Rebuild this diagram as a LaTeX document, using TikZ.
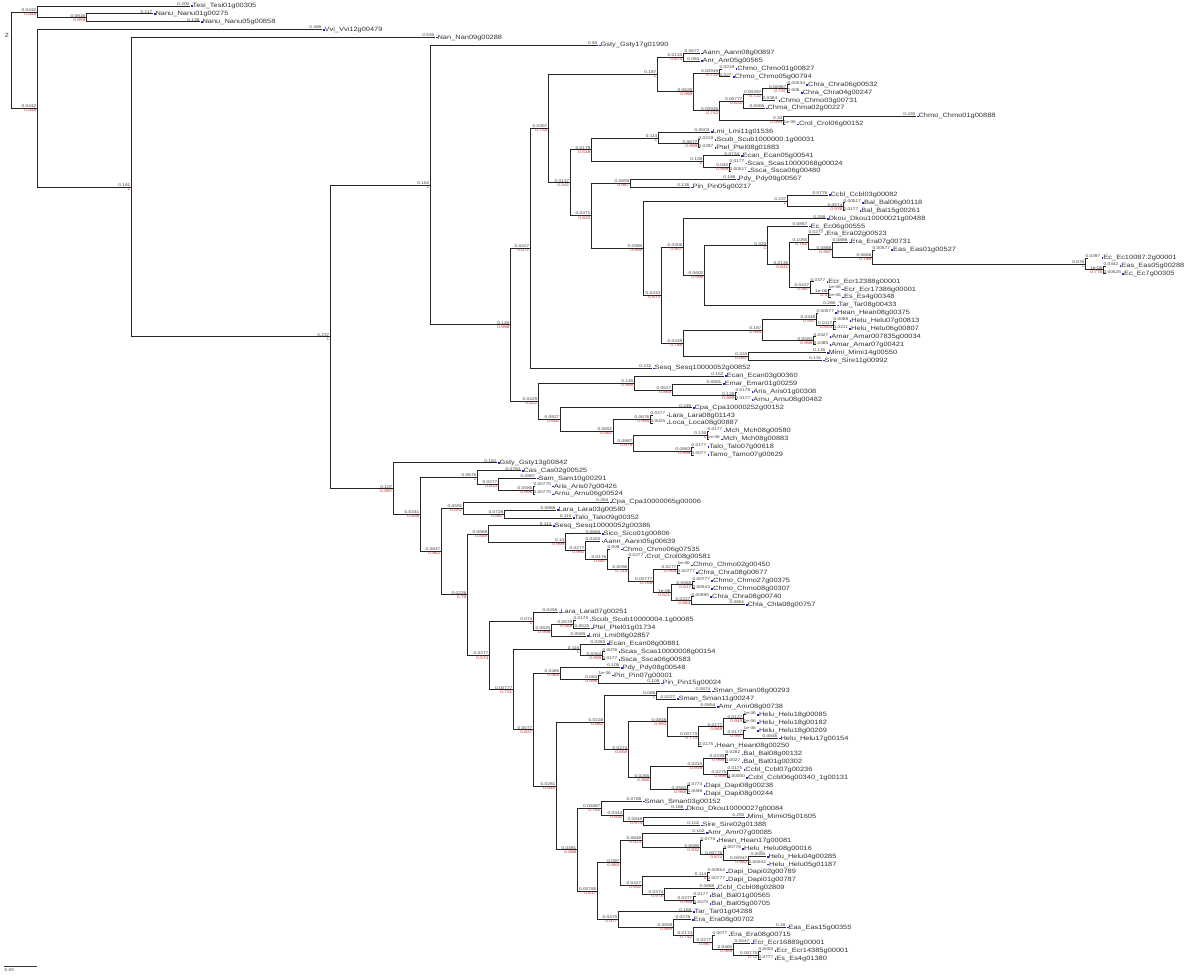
\documentclass[tikz,border=0pt]{standalone}
\usepackage{fontspec}
\usepackage{xcolor}
\usetikzlibrary{calc}
\newfontfamily\treefont[FakeStretch=1.2]{Liberation Sans}
\definecolor{suppred}{RGB}{200,45,45}
\definecolor{tipblue}{RGB}{35,35,215}

% internal node: name, x, row, branch length, support
\newcommand\nd[5]{%
  \coordinate (#1) at (#2,#3);
  \node[blen,anchor=south east] at (#1) {#4};
  \node[supp,anchor=north east] at (#1) {#5};
  \fill[suppred] (#1) circle (0.6pt);
}
% leaf: name, parent, tip x, row, branch length, label
\newcommand\lf[6]{%
  \coordinate (#1) at (#3,#4);
  \draw[branch] (#2) |- (#1);
  \path let \p1=(#2), \p2=(#1) in node[blen,anchor=south west,text opacity=0] (#1w) at (\x1,\y2) {#5};
  \path let \p2=(#1), \p3=(#1w.south east) in coordinate (#1e) at ({max(\x2,\x3)*1pt},\y2);
  \node[blen,anchor=south east] at (#1e) {#5};
  \node[leafname] (#1n) at (#1e) {\textcolor{tipblue}{\rule[0.6pt]{1.8pt}{1.6pt}}#6};
}

\begin{document}
\begin{tikzpicture}[x=1pt,y=-7.876pt]
\tikzset{branch/.style={draw=black!85,line width=0.8pt}}
\tikzset{blen/.style={font=\treefont\fontsize{4}{4}\selectfont,text=black!75,inner sep=0.4pt}}
\tikzset{supp/.style={font=\treefont\fontsize{4}{4}\selectfont,text=suppred,inner sep=0.4pt}}
\tikzset{leafname/.style={anchor=west,font=\treefont\fontsize{6.2}{6.2}\selectfont,text=black!80,inner sep=0.6pt}}

\useasboundingbox (0,-0.762) rectangle (1200,123.16);

% root and first splits
\coordinate (R) at (11,6.875);
\node[blen,font=\treefont\fontsize{6}{6}\selectfont] (rootmark) at (7,3.7) {2};
\nd{A}{37}{0.75}{0.0432}{0.848}
\nd{B}{86}{1.5}{0.0816}{0.959}
\nd{C}{37}{13}{0.0432}{0.848}
\nd{D}{131}{23}{0.181}{1}
\nd{E}{330}{42.01}{0.237}{1}

% upper clade
\nd{F}{430}{22.74}{0.162}{1}
\nd{L}{510}{40.485}{0.148}{0.998}
\nd{M}{530}{30.78}{0.0427}{0.871}
\nd{X}{548}{15.567}{0.0357}{0.754}
\nd{Y}{657}{8.703}{0.187}{1}
\nd{Y1}{683}{6.5}{0.0133}{0.874}
\nd{Y2}{693}{10.906}{0.0628}{0.999}
\nd{Y3}{719}{8.5}{0.00949}{0.722}
\nd{Y4}{719}{13.3125}{0.00945}{0.742}
\nd{Y5}{743}{12.125}{0.00777}{0.831}
\nd{Y6}{783}{14.5}{0.33}{0.999}
\nd{Y7}{762}{11.25}{0.00397}{0.722}
\nd{Y8}{787}{10.5}{0.00967}{0.737}
\nd{Z}{570}{22.43}{0.0137}{0.541}
\nd{Z1}{591}{18.25}{0.0179}{0.518}
\nd{AA}{658}{16.75}{0.113}{1}
\nd{AA2}{698}{17.5}{0.0677}{0.999}
\nd{AB}{703}{19.75}{0.138}{1}
\nd{AB2}{729}{20.5}{0.042}{0.999}
\nd{Z2}{591}{26.615}{0.0471}{0.833}
\nd{Z3}{630}{22.5}{0.0859}{0.987}
\nd{Z4}{643}{30.73}{0.0985}{0.999}
\nd{Z5}{787}{24.75}{0.237}{1}
\nd{Z6}{843}{25.5}{0.0574}{0.976}
\nd{Z7}{661}{36.71}{0.0433}{0.873}
\nd{Z8}{683}{30.607}{0.0306}{0.957}
\nd{Z9}{683}{42.8125}{0.0449}{0.788}
\nd{Z10}{704}{34.215}{0.0602}{0.999}
\nd{Z11}{767}{30.43}{0.333}{1}
\nd{Z11a}{808}{29.969}{0.1055}{0.762}
\nd{Z11b}{832}{30.9375}{0.0888}{0.997}
\nd{Z12}{872}{31.875}{0.0666}{0.788}
\nd{Z13}{1085}{32.75}{0.876}{1}
\nd{Z14}{1103}{33.5}{1e-06}{0.775}
\nd{P1}{789}{32.859}{0.0135}{0.641}
\nd{P2}{810}{35.75}{0.0427}{0.987}
\nd{P3}{828}{36.5}{1e-06}{0.3}
\nd{Q4}{762}{41.125}{0.187}{0.999}
\nd{Q5}{748}{44.5}{0.333}{0.997}
\nd{Q6}{816}{39.75}{0.0348}{0.597}
\nd{Q7}{813}{42.5}{0.0584}{0.998}
\nd{Q8}{833}{40.5}{0.0117}{0.853}
\nd{N}{538}{50.19}{0.0429}{0.522}
\nd{O}{634}{47.875}{0.145}{0.999}
\nd{P}{560}{52.5}{0.0927}{0.682}
\nd{Q}{672}{48.75}{0.0527}{0.868}
\nd{Q2}{735}{49.5}{0.128}{0.999}
\nd{S}{613}{54}{0.0651}{0.881}
\nd{T}{650}{52.5}{0.0676}{0.995}
\nd{U}{633}{55.5}{0.0887}{0.979}
\nd{V}{707}{54.5}{0.135}{1}
\nd{W}{691}{56.5}{0.0883}{0.998}

% lower clade
\nd{G}{393}{61.28}{0.107}{0.997}
\nd{H}{420}{64.56}{0.0341}{0.656}
\nd{I}{477}{59.875}{0.0676}{1}
\nd{I2}{498}{60.75}{0.0277}{0.833}
\nd{I3}{533}{61.5}{0.0586}{0.996}
\nd{J}{441}{69.25}{0.0847}{0.862}
\nd{J1}{463}{63.75}{0.0591}{0.552}
\nd{J2}{504}{64.5}{0.0728}{0.887}
\nd{K}{467}{74.755}{0.0226}{0.79}
\nd{K1}{488}{67.03}{0.0889}{0.849}
\nd{K1a}{565}{68.06}{0.14}{0.999}
\nd{K1b}{585}{69.125}{0.0277}{0.992}
\nd{K1c}{607}{70.25}{0.0176}{0.887}
\nd{K1e}{628}{71.5}{0.0096}{0.744}
\nd{K1f}{653}{73}{0.00777}{0.768}
\nd{K1g}{677}{71.5}{0.0277}{0.958}
\nd{K1h}{671}{74.5}{1e-06}{0.521}
\nd{K1i}{692}{73.5}{0.0065}{0.617}
\nd{K1j}{691}{75.5}{0.0227}{0.884}
\nd{K2}{489}{82.48}{0.0277}{0.574}
\nd{K3}{533}{78.125}{0.074}{1}
\nd{K4}{551}{79.25}{0.0825}{0.998}
\nd{K4a}{573}{78.5}{0.0579}{0.988}
\nd{K5}{513}{86.83}{0.00777}{0.721}
\nd{K6}{580}{81.75}{0.115}{1}
\nd{K6b}{602}{82.5}{0.0354}{0.999}
\nd{K7}{533}{91.9}{0.0077}{0.827}
\nd{K8}{560}{84.75}{0.0485}{0.983}
\nd{K8a}{598}{85.5}{0.084}{0.996}
\nd{K9}{556}{99.05}{0.0281}{0.845}
\nd{K10}{604}{90.97}{0.0228}{0.882}
\nd{K12}{656}{87.5}{0.088}{1}
\nd{K13}{628}{94.44}{0.0274}{0.658}
\nd{K14}{667}{90.875}{0.0848}{0.993}
\nd{K15}{650}{98}{0.0265}{0.988}
\nd{K16}{698}{92.75}{0.00773}{0.774}
\nd{K17}{723}{91.5}{0.0177}{0.948}
\nd{K18}{743}{90.5}{0.0127}{0.943}
\nd{K19}{743}{92.5}{0.0177}{0.997}
\nd{K20}{703}{96.5}{0.0215}{0.919}
\nd{K21}{687}{99.5}{0.0583}{0.968}
\nd{K22}{725}{95.5}{0.0339}{0.999}
\nd{K23}{727}{97.5}{0.0275}{0.999}
\nd{K11}{577}{107.13}{0.0481}{0.888}
\nd{K24}{601}{101.875}{0.00887}{0.762}
\nd{K25}{597}{112.38}{0.00785}{0.617}
\nd{K26}{623}{102.75}{0.0343}{0.934}
\nd{K27}{643}{103.5}{0.0848}{0.974}
\nd{K28}{620}{108.78}{0.097}{0.983}
\nd{K29}{642}{105.94}{0.0848}{0.913}
\nd{K30}{700}{106.875}{0.0595}{0.932}
\nd{K31}{723}{107.75}{0.00776}{0.874}
\nd{K32}{748}{108.5}{0.00947}{0.982}
\nd{K33}{642}{111.625}{0.0427}{0.692}
\nd{K34}{707}{110.5}{0.114}{1}
\nd{K35}{664}{112.75}{0.0374}{0.978}
\nd{K36}{693}{113.5}{0.0377}{0.998}
\nd{K37}{618}{115.98}{0.0475}{0.977}
\nd{K38}{673}{116.97}{0.0558}{0.994}
\nd{K39}{693}{117.94}{0.0174}{0.742}
\nd{K40}{712}{118.875}{0.0277}{0.867}
\nd{K41}{733}{119.75}{0.0465}{0.989}
\nd{K42}{758}{120.5}{0.00775}{0.72}

% internal branches
\draw[branch] (R) |- (A) (R) |- (C) (A) |- (B) (C) |- (D) (D) |- (E) (E) |- (F) (E) |- (G);
\draw[branch] (F) |- (L) (L) |- (M) (L) |- (N) (M) |- (X) (X) |- (Y) (X) |- (Z);
\draw[branch] (Y) |- (Y1) (Y) |- (Y2) (Y2) |- (Y3) (Y2) |- (Y4) (Y4) |- (Y5) (Y4) |- (Y6) (Y5) |- (Y7) (Y7) |- (Y8);
\draw[branch] (Z) |- (Z1) (Z) |- (Z2) (Z1) |- (AA) (Z1) |- (AB) (AA) |- (AA2) (AB) |- (AB2);
\draw[branch] (Z2) |- (Z3) (Z2) |- (Z4) (Z4) |- (Z5) (Z4) |- (Z7) (Z5) |- (Z6) (Z7) |- (Z8) (Z7) |- (Z9);
\draw[branch] (Z8) |- (Z10) (Z10) |- (Z11) (Z11) |- (P1) (P1) |- (Z11a) (P1) |- (P2) (Z11a) |- (Z11b) (Z11b) |- (Z12) (Z12) |- (Z13) (Z13) |- (Z14) (P2) |- (P3);
\draw[branch] (Z9) |- (Q4) (Z9) |- (Q5) (Q4) |- (Q6) (Q4) |- (Q7) (Q6) |- (Q8);
\draw[branch] (N) |- (O) (N) |- (P) (O) |- (Q) (Q) |- (Q2) (P) |- (S) (S) |- (T) (S) |- (U) (U) |- (V) (U) |- (W);
\draw[branch] (G) |- (H) (H) |- (I) (H) |- (J) (I) |- (I2) (I2) |- (I3) (J) |- (J1) (J) |- (K) (J1) |- (J2);
\draw[branch] (K) |- (K1) (K) |- (K2) (K1) |- (K1a) (K1a) |- (K1b) (K1b) |- (K1c) (K1c) |- (K1e) (K1e) |- (K1f) (K1f) |- (K1g) (K1f) |- (K1h) (K1h) |- (K1i) (K1h) |- (K1j);
\draw[branch] (K2) |- (K3) (K2) |- (K5) (K3) |- (K4) (K4) |- (K4a) (K5) |- (K6) (K5) |- (K7) (K6) |- (K6b) (K7) |- (K8) (K7) |- (K9) (K8) |- (K8a);
\draw[branch] (K9) |- (K10) (K9) |- (K11) (K10) |- (K12) (K10) |- (K13) (K13) |- (K14) (K13) |- (K15) (K14) |- (K16) (K16) |- (K17) (K17) |- (K18) (K17) |- (K19);
\draw[branch] (K15) |- (K20) (K15) |- (K21) (K20) |- (K22) (K20) |- (K23);
\draw[branch] (K11) |- (K24) (K11) |- (K25) (K24) |- (K26) (K26) |- (K27) (K25) |- (K28) (K25) |- (K37);
\draw[branch] (K28) |- (K29) (K28) |- (K33) (K29) |- (K30) (K30) |- (K31) (K31) |- (K32) (K33) |- (K34) (K33) |- (K35) (K35) |- (K36);
\draw[branch] (K37) |- (K38) (K38) |- (K39) (K39) |- (K40) (K40) |- (K41) (K41) |- (K42);

% leaves
\lf{l0}{A}{190}{0}{0.200}{Tesi\_Tesi01g00305}
\lf{l1}{B}{153}{1}{0.117}{Nanu\_Nanu01g00275}
\lf{l2}{B}{200}{2}{0.138}{Nanu\_Nanu05g00858}
\lf{l3}{C}{322}{3}{0.488}{Vvi\_Vvi12g00479}
\lf{l4}{D}{435}{4}{0.535}{Nan\_Nan09g00288}
\lf{l5}{F}{598}{5}{0.55}{Gsty\_Gsty17g01990}
\lf{l6}{Y1}{700}{6}{0.0677}{Aann\_Aann08g00897}
\lf{l7}{Y1}{700}{7}{0.084}{Anr\_Anr05g00565}
\lf{l8}{Y3}{722}{8}{0.0219}{Chmo\_Chmo01g00827}
\lf{l9}{Y3}{730}{9}{0.027}{Chmo\_Chmo05g00794}
\lf{l10}{Y8}{790}{10}{0.00534}{Chra\_Chra06g00532}
\lf{l11}{Y8}{790}{11}{0.006}{Chra\_Chra04g00247}
\lf{l12}{Y7}{775}{12}{0.0384}{Chmo\_Chmo03g00731}
\lf{l13}{Y5}{765}{13}{0.0065}{Chma\_Chma02g00227}
\lf{l14}{Y6}{916}{14}{0.435}{Chmo\_Chmo01g00888}
\lf{l15}{Y6}{785}{15}{1e-06}{Crol\_Crol06g00152}
\lf{l16}{AA}{710}{16}{0.0503}{Lmi\_Lmi11g01536}
\lf{l17}{AA2}{700}{17}{0.0219}{Scub\_Scub1000000.1g00031}
\lf{l18}{AA2}{700}{18}{0.0297}{Ptel\_Ptel08g01883}
\lf{l19}{AB}{740}{19}{0.0734}{Ecan\_Ecan05g00541}
\lf{l20}{AB2}{731}{20}{0.0177}{Scas\_Scas10000068g00024}
\lf{l21}{AB2}{731}{21}{0.00517}{Ssca\_Ssca06g00480}
\lf{l22}{Z3}{736}{22}{0.188}{Pdy\_Pdy09g00567}
\lf{l23}{Z3}{690}{23}{0.126}{Pin\_Pin05g00217}
\lf{l24}{Z5}{828}{24}{0.0776}{Ccbl\_Ccbl03g00082}
\lf{l25}{Z6}{845}{25}{0.00517}{Bal\_Bal06g00118}
\lf{l26}{Z6}{845}{26}{0.0177}{Bal\_Bal15g00261}
\lf{l27}{Z8}{826}{27}{0.258}{Dkou\_Dkou10000021g00488}
\lf{l28}{Z11}{808}{28}{0.0867}{Ec\_Ec06g00555}
\lf{l29}{Z11a}{820}{29}{0.0277}{Era\_Era02g00523}
\lf{l30}{Z11b}{848}{30}{0.0888}{Era\_Era07g00731}
\lf{l31}{Z12}{875}{31}{0.00577}{Eas\_Eas01g00527}
\lf{l32}{Z13}{1088}{32}{0.0397}{Ec\_Ec10087.2g00001}
\lf{l33}{Z14}{1106}{33}{0.0442}{Eas\_Eas05g00288}
\lf{l34}{Z14}{1106}{34}{0.00525}{Ec\_Ec7g00305}
\lf{l35}{P2}{814}{35}{0.0377}{Ecr\_Ecr12388g00001}
\lf{l36}{P3}{831}{36}{1e-06}{Ecr\_Ecr17386g00001}
\lf{l37}{P3}{831}{37}{1e-06}{Es\_Es4g00348}
\lf{l38}{Z10}{836}{38}{0.288}{Tar\_Tar08g00433}
\lf{l39}{Q6}{818}{39}{0.00577}{Hean\_Hean08g00375}
\lf{l40}{Q8}{836}{40}{0.0088}{Helu\_Helu07g00813}
\lf{l41}{Q8}{836}{41}{0.0211}{Helu\_Helu06g00807}
\lf{l42}{Q7}{816}{42}{0.0427}{Amar\_Amar007835g00034}
\lf{l43}{Q7}{816}{43}{0.0385}{Amar\_Amar07g00421}
\lf{l44}{Q5}{826}{44}{0.135}{Mimi\_Mimi14g00550}
\lf{l45}{Q5}{822}{45}{0.131}{Sire\_Sire11g00992}
\lf{l46}{M}{652}{46}{0.232}{Sesq\_Sesq10000052g00852}
\lf{l47}{O}{724}{47}{0.152}{Ecan\_Ecan03g00360}
\lf{l48}{Q}{722}{48}{0.0801}{Emar\_Emar01g00259}
\lf{l49}{Q2}{737}{49}{0.0179}{Aris\_Aris01g00308}
\lf{l50}{Q2}{737}{50}{0.0177}{Arnu\_Arnu08g00482}
\lf{l51}{P}{692}{51}{0.245}{Cpa\_Cpa10000252g00152}
\lf{l52}{T}{653}{52}{0.0277}{Lara\_Lara08g01143}
\lf{l53}{T}{653}{53}{0.0025}{Loca\_Loca08g00887}
\lf{l54}{V}{709}{54}{0.0177}{Mch\_Mch08g00580}
\lf{l55}{V}{709}{55}{1e-06}{Mch\_Mch08g00883}
\lf{l56}{W}{694}{56}{0.0177}{Talo\_Talo07g00618}
\lf{l57}{W}{694}{57}{0.0077}{Tamo\_Tamo07g00629}
\lf{l58}{G}{497}{58}{0.182}{Gsty\_Gsty13g00842}
\lf{l59}{I}{521}{59}{0.0784}{Cas\_Cas02g00525}
\lf{l60}{I2}{536}{60}{0.0887}{Sam\_Sam10g00291}
\lf{l61}{I3}{535}{61}{0.00775}{Aris\_Aris07g00426}
\lf{l62}{I3}{535}{62}{0.00775}{Arnu\_Arnu06g00524}
\lf{l63}{J1}{609}{63}{0.264}{Cpa\_Cpa10000065g00006}
\lf{l64}{J2}{556}{64}{0.0888}{Lara\_Lara03g00580}
\lf{l65}{J2}{572}{65}{0.115}{Talo\_Talo09g00352}
\lf{l66}{K1}{552}{66}{0.114}{Sesq\_Sesq10000052g00386}
\lf{l67}{K1a}{601}{67}{0.0694}{Sico\_Sico01g00806}
\lf{l68}{K1b}{600}{68}{0.0425}{Aann\_Aann05g00639}
\lf{l69}{K1c}{610}{69}{0.009}{Chmo\_Chmo06g07535}
\lf{l70}{K1e}{630}{70}{0.0277}{Crol\_Crol08g00581}
\lf{l71}{K1g}{680}{71}{1e-06}{Chmo\_Chmo02g00450}
\lf{l72}{K1g}{680}{72}{0.00777}{Chra\_Chra08g00677}
\lf{l73}{K1i}{695}{73}{0.00777}{Chmo\_Chmo27g00375}
\lf{l74}{K1i}{695}{74}{0.00543}{Chmo\_Chmo08g00307}
\lf{l75}{K1j}{694}{75}{0.00995}{Chra\_Chra08g00740}
\lf{l76}{K1j}{745}{76}{0.0861}{Chla\_Chla08g00757}
\lf{l77}{K3}{558}{77}{0.0456}{Lara\_Lara07g00251}
\lf{l78}{K4a}{576}{78}{0.0175}{Scub\_Scub10000004.1g00085}
\lf{l79}{K4a}{590}{79}{0.0525}{Ptel\_Ptel01g01734}
\lf{l80}{K4}{586}{80}{0.0569}{Lmi\_Lmi08g02857}
\lf{l81}{K6}{606}{81}{0.0383}{Ecan\_Ecan08g00881}
\lf{l82}{K6b}{605}{82}{0.0076}{Scas\_Scas10000008g00154}
\lf{l83}{K6b}{605}{83}{0.0177}{Ssca\_Ssca06g00583}
\lf{l84}{K8}{620}{84}{0.108}{Pdy\_Pdy08g00548}
\lf{l85}{K8a}{601}{85}{1e-06}{Pin\_Pin07g00001}
\lf{l86}{K8a}{660}{86}{0.108}{Pin\_Pin15g00024}
\lf{l87}{K12}{711}{87}{0.0874}{Sman\_Sman08g00293}
\lf{l88}{K12}{676}{88}{0.0227}{Sman\_Sman11g00247}
\lf{l89}{K14}{716}{89}{0.0854}{Amr\_Amr08g00738}
\lf{l90}{K18}{746}{90}{1e-06}{Helu\_Helu18g00085}
\lf{l91}{K18}{746}{91}{1e-06}{Helu\_Helu18g00182}
\lf{l92}{K19}{746}{92}{1e-06}{Helu\_Helu18g00209}
\lf{l93}{K19}{778}{93}{0.0846}{Helu\_Helu17g00154}
\lf{l94}{K16}{702}{94}{0.0175}{Hean\_Hean08g00250}
\lf{l95}{K22}{728}{95}{0.0282}{Bal\_Bal08g00132}
\lf{l96}{K22}{728}{96}{0.0027}{Bal\_Bal01g00302}
\lf{l97}{K23}{740}{97}{0.0175}{Ccbl\_Ccbl07g00236}
\lf{l98}{K23}{730}{98}{0.00000}{Ccbl\_Ccbl06g00340\_1g00131}
\lf{l99}{K21}{690}{99}{0.0774}{Dapi\_Dapi08g00238}
\lf{l100}{K21}{690}{100}{0.0098}{Dapi\_Dapi08g00244}
\lf{l101}{K24}{642}{101}{0.0788}{Sman\_Sman03g00152}
\lf{l102}{K26}{684}{102}{0.188}{Dkou\_Dkou10000027g00084}
\lf{l103}{K27}{745}{103}{0.255}{Mimi\_Mimi05g01605}
\lf{l104}{K27}{700}{104}{0.102}{Sire\_Sire02g01388}
\lf{l105}{K29}{705}{105}{0.102}{Amr\_Amr07g00085}
\lf{l106}{K30}{703}{106}{0.0775}{Hean\_Hean17g00081}
\lf{l107}{K31}{726}{107}{0.00778}{Helu\_Helu08g00016}
\lf{l108}{K32}{766}{108}{0.0094}{Helu\_Helu04g00285}
\lf{l109}{K32}{751}{109}{0.00542}{Helu\_Helu05g01187}
\lf{l110}{K34}{710}{110}{0.00554}{Dapi\_Dapi02g00789}
\lf{l111}{K34}{710}{111}{0.00777}{Dapi\_Dapi01g00787}
\lf{l112}{K35}{715}{112}{0.0888}{Ccbl\_Ccbl08g02809}
\lf{l113}{K36}{696}{113}{0.0177}{Bal\_Bal01g00565}
\lf{l114}{K36}{696}{114}{0.0275}{Bal\_Bal05g00705}
\lf{l115}{K37}{692}{115}{0.168}{Tar\_Tar01g04288}
\lf{l116}{K38}{691}{116}{0.0276}{Era\_Era08g00702}
\lf{l117}{K39}{786}{117}{0.18}{Eas\_Eas15g00355}
\lf{l118}{K40}{715}{118}{0.0077}{Era\_Era08g00715}
\lf{l119}{K41}{750}{119}{0.0547}{Ecr\_Ecr16889g00001}
\lf{l120}{K42}{761}{120}{0.0000}{Ecr\_Ecr14385g00001}
\lf{l121}{K42}{761}{121}{0.0777}{Es\_Es4g01380}

% scale bar
\coordinate (sb1) at (4,121.9);
\coordinate (sb2) at (37,121.9);
\draw[black!80,line width=0.6pt] (sb1) -- (sb2);
\node[blen,anchor=north west] (sblab) at (4,122.1) {0.05};
\end{tikzpicture}
\end{document}
